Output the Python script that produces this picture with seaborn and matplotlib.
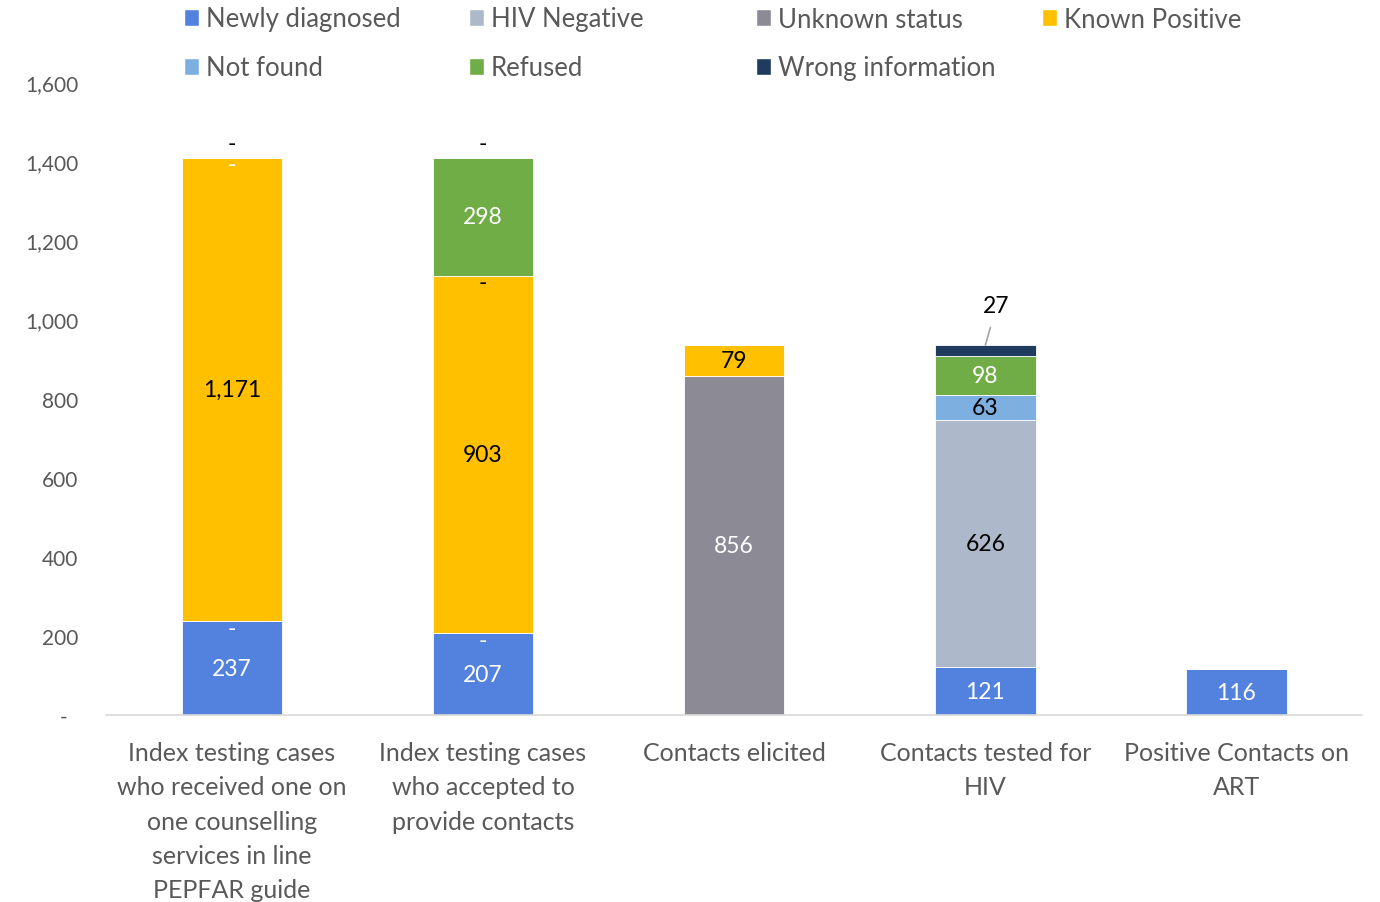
import matplotlib
matplotlib.use('Agg')
import matplotlib.pyplot as plt
import seaborn as sns
import pandas as pd
import numpy as np
from matplotlib.patches import Patch
from matplotlib.ticker import FuncFormatter

# 数据
categories = [
    'Index testing cases\nwho received one on\none counselling\nservices in line\nPEPFAR guide',
    'Index testing cases\nwho accepted to\nprovide contacts',
    'Contacts elicited',
    'Contacts tested for\nHIV',
    'Positive Contacts on\nART',
]
series_names = ['Newly diagnosed', 'HIV Negative', 'Unknown status', 'Known Positive',
                'Not found', 'Refused', 'Wrong information']
# NaN = no label shown, 0 = shown as "-"
newly_diagnosed = [237, 207, np.nan, 121, 116]
hiv_negative = [np.nan, np.nan, np.nan, 626, np.nan]
unknown_status = [0, 0, 856, np.nan, np.nan]
known_positive = [1171, 903, 79, np.nan, np.nan]
not_found = [np.nan, 0, np.nan, 63, np.nan]
refused = [0, 298, np.nan, 98, np.nan]
wrong_information = [0, 0, np.nan, 27, np.nan]

colors = ['#5282DE', '#ADB9CA', '#8C8B95', '#FFC000', '#7DB0E0', '#70AD47', '#1F3B5E']
label_colors = ['white', 'black', 'white', 'black', 'black', 'white', 'black']

sns.set_style('white')
plt.rcParams['font.family'] = ['Lato', 'DejaVu Sans']

df = pd.DataFrame({
    'category': categories,
    'Newly diagnosed': newly_diagnosed,
    'HIV Negative': hiv_negative,
    'Unknown status': unknown_status,
    'Known Positive': known_positive,
    'Not found': not_found,
    'Refused': refused,
    'Wrong information': wrong_information,
})

LABEL_FS = 16.5

fig, ax = plt.subplots(figsize=(13.8, 9.03), dpi=100)
fig.subplots_adjust(left=0.077, right=0.987, bottom=0.207, top=0.908)

bottom = np.zeros(len(categories))
for name, color, lc in zip(series_names, colors, label_colors):
    vals = df[name].fillna(0).to_numpy()
    sns.barplot(x=df['category'], y=vals, bottom=bottom, color=color, width=0.4,
                saturation=1, order=categories, errorbar=None, edgecolor='white',
                linewidth=0.6, ax=ax)
    # 数据标签
    for i, raw in enumerate(df[name]):
        if pd.isna(raw):
            continue
        if name == 'Wrong information':
            top = bottom[i] + raw
            if raw == 0:
                ax.annotate('-', xy=(i, top), xytext=(0, 3), textcoords='offset points',
                            ha='center', va='bottom', fontsize=LABEL_FS, color=lc)
            else:
                ax.annotate(f'{raw:,.0f}', xy=(i, top), xytext=(i + 0.045, top + 100),
                            ha='center', va='center', fontsize=LABEL_FS, color=lc,
                            arrowprops=dict(arrowstyle='-', color='#A6A6A6', lw=1.2,
                                            shrinkA=6, shrinkB=0))
        elif raw == 0:
            ax.annotate('-', xy=(i, bottom[i]), xytext=(0, -5), textcoords='offset points',
                        ha='center', va='center', fontsize=LABEL_FS, color=lc)
        else:
            ax.text(i, bottom[i] + raw / 2, f'{raw:,.0f}', ha='center', va='center',
                    fontsize=LABEL_FS, color=lc)
    bottom = bottom + vals

# 坐标轴
ax.set_xlim(-0.5, len(categories) - 0.5)
ax.set_ylim(0, 1600)
ax.set_yticks(np.arange(0, 1601, 200))
ax.yaxis.set_major_formatter(FuncFormatter(lambda v, p: '-  ' if v == 0 else f'{v:,.0f}'))
ax.set_xlabel('')
ax.set_ylabel('')
ax.tick_params(axis='y', length=0, pad=20, labelsize=15, labelcolor='#595959')
ax.tick_params(axis='x', length=0, pad=19, labelsize=18, labelcolor='#595959')
for lab in ax.get_xticklabels():
    lab.set_linespacing(1.58)
sns.despine(ax=ax, left=True)
ax.spines['bottom'].set_color('#D9D9D9')
ax.spines['bottom'].set_linewidth(1.2)

# 图例
legend_pos = [(184, 20), (469, 20), (756, 20), (1042, 20), (184, 69), (469, 69), (756, 69)]
for name, color, (px, py) in zip(series_names, colors, legend_pos):
    fig.legend(handles=[Patch(facecolor=color)], labels=[name], loc='center left',
               bbox_to_anchor=(px / 1380, 1 - py / 903), frameon=False, fontsize=18.5,
               handlelength=0.6, handleheight=0.6, handletextpad=0.25,
               borderpad=0, borderaxespad=0, labelcolor='#595959')

fig.savefig('out.png', dpi=100)
